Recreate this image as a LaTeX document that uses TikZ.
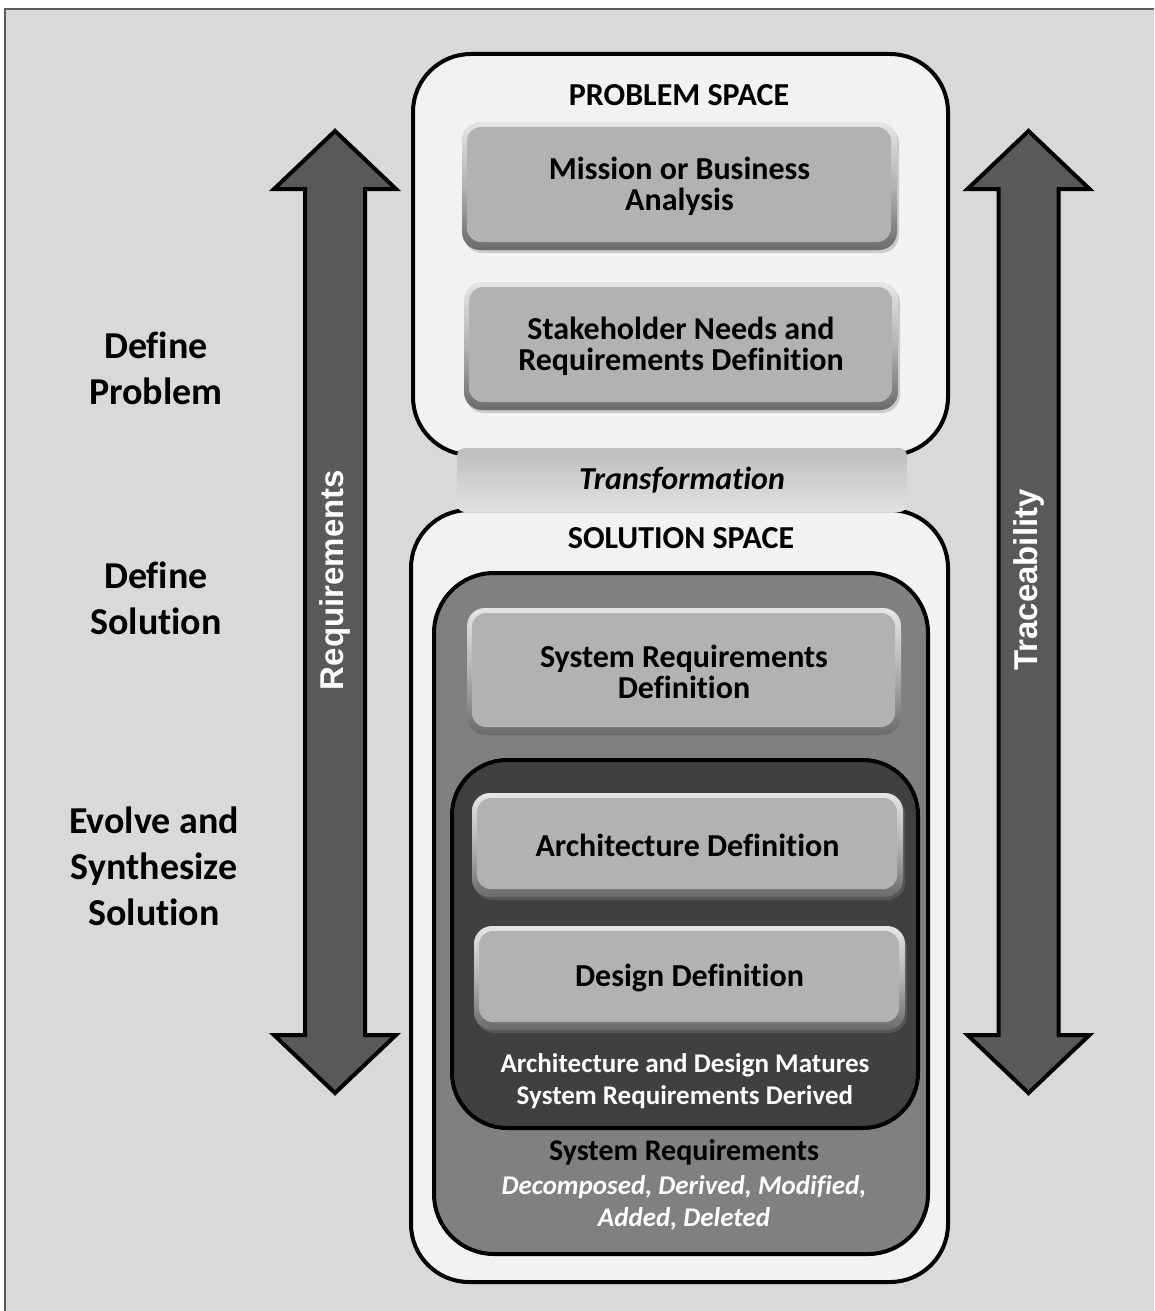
\documentclass[tikz,border=0pt]{standalone}
\usepackage{fontspec}
\setmainfont{Carlito}[Ligatures=NoCommon]
\newfontfamily\arialfont{Liberation Sans}
\usetikzlibrary{shadows}
\definecolor{bg}{HTML}{D9D9D9}
\definecolor{spacefill}{HTML}{F2F2F2}
\definecolor{midfill}{HTML}{808080}
\definecolor{darkfill}{HTML}{404040}
\definecolor{arrowfill}{HTML}{595959}
\definecolor{face}{HTML}{B2B2B2}
\definecolor{bevtop}{HTML}{E6E6E6}
\definecolor{bevbot}{HTML}{6A6A6A}
\definecolor{frameline}{HTML}{5A5A5A}
\definecolor{bandtop}{HTML}{BDBDBD}
\definecolor{bandbot}{HTML}{E2E2E2}
\begin{document}
\begin{tikzpicture}[x=1pt,y=-1pt,
  container/.style={rectangle, inner sep=0pt, outer sep=0pt, draw=black, line width=4pt},
  spacebox/.style={container, fill=spacefill, rounded corners=58pt},
  midbox/.style={container, fill=midfill, rounded corners=60pt},
  darkbox/.style={container, fill=darkfill, rounded corners=55pt},
  procbox/.style={rectangle, inner sep=0pt, outer sep=0pt, rounded corners=18pt,
    top color=bevtop, bottom color=bevbot, middle color=face, draw=none,
    drop shadow={shadow xshift=2pt, shadow yshift=-3pt, opacity=0.35},
    font=\bfseries\fontsize{32}{31}\selectfont, align=center,
    path picture={\fill[face, rounded corners=14pt]
      ([xshift=5pt,yshift=8pt]path picture bounding box.south west) rectangle
      ([xshift=-6pt,yshift=-5pt]path picture bounding box.north east);}},
  band/.style={rectangle, inner sep=0pt, rounded corners=8pt, top color=bandtop, bottom color=bandbot, draw=none,
    font=\bfseries\itshape\fontsize{32}{32}\selectfont},
  headlbl/.style={font=\bfseries\fontsize{32}{32}\selectfont, inner sep=0pt},
  sidelbl/.style={font=\bfseries\fontsize{38}{46}\selectfont, align=center, inner sep=0pt},
  whitelbl/.style={text=white, font=\bfseries\fontsize{27}{32}\selectfont, align=center, inner sep=0pt},
  blacklbl/.style={font=\bfseries\fontsize{30}{32}\selectfont, align=center, inner sep=0pt},
  italbl/.style={text=white, font=\bfseries\itshape\fontsize{27}{32}\selectfont, align=center, inner sep=0pt},
  arrowshape/.style={fill=arrowfill, draw=black, line width=4pt, line join=miter},
  arrowlbl/.style={text=white, font=\arialfont\bfseries\fontsize{33}{36}\selectfont, inner sep=0pt, rotate=90}
]
\useasboundingbox (0,0) rectangle (1154,1311);
\fill[white] (0,0) rectangle (1154,1311);
\fill[bg] (5,9) rectangle (1154,1311);
\draw[frameline, line width=2pt] (5,1311) -- (5,9) -- (1154,9);

% double arrows
\draw[arrowshape] (335,131) -- (396,189) -- (365,189) -- (365,1035) -- (396,1035) -- (335,1093)
  -- (274,1035) -- (305,1035) -- (305,189) -- (274,189) -- cycle;
\node[arrowlbl] (reqlbl) at (335,580) {Requirements};
\draw[arrowshape] (1028.5,131) -- (1089.5,189) -- (1058.5,189) -- (1058.5,1035) -- (1089.5,1035) -- (1028.5,1093)
  -- (967.5,1035) -- (998.5,1035) -- (998.5,189) -- (967.5,189) -- cycle;
\node[arrowlbl] (tracelbl) at (1028.5,580) {Traceability};

% side labels
\node[sidelbl] (defprob) at (156,368) {Define\\Problem};
\node[sidelbl] (defsol) at (156,598) {Define\\Solution};
\node[sidelbl] (evolve) at (154,866) {Evolve and\\Synthesize\\Solution};

% problem space
\node[spacebox, minimum width=535pt, minimum height=401pt] (problem) at (680.5,254.5) {};
\node[headlbl] (probtitle) at (679,95) {PROBLEM SPACE};
\node[procbox, minimum width=435pt, minimum height=128pt] (mission) at (679.5,186) {Mission or Business\\Analysis};
\node[procbox, minimum width=434pt, minimum height=128pt] (stake) at (681,346) {Stakeholder Needs and\\Requirements Definition};

% solution space
\node[spacebox, minimum width=537pt, minimum height=772pt] (solution) at (679.5,896) {};
\node[band, minimum width=450pt, minimum height=64pt] (transform) at (682,480) {Transformation};
\node[headlbl] (soltitle) at (681,538) {SOLUTION SPACE};
\node[midbox, minimum width=494pt, minimum height=681pt] (mid) at (681,913.5) {};
\node[procbox, minimum width=434pt, minimum height=127pt] (sysreq) at (684,671.5) {System Requirements\\Definition};
\node[darkbox, minimum width=466pt, minimum height=368pt] (dark) at (685,944) {};
\node[procbox, minimum width=431pt, minimum height=104pt] (arch) at (687.5,845) {Architecture Definition};
\node[procbox, minimum width=431pt, minimum height=104pt] (design) at (689.5,978) {Design Definition};
\node[whitelbl] (matures) at (685,1081) {Architecture and Design Matures\\System Requirements Derived};
\node[blacklbl] (sysreqlbl) at (684,1152) {System Requirements};
\node[italbl] (changes) at (684,1203) {Decomposed, Derived, Modified,\\Added, Deleted};
\end{tikzpicture}
\end{document}
